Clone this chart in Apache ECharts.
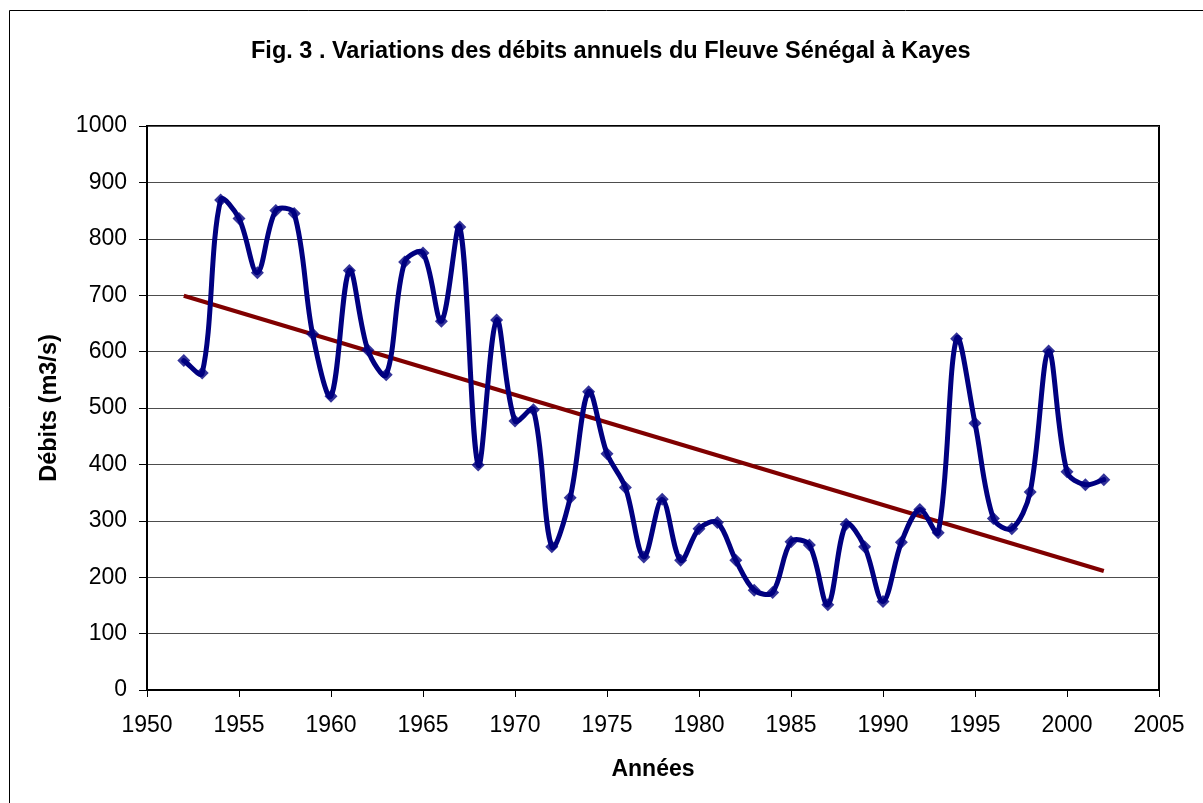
<!DOCTYPE html>
<html>
<head>
<meta charset="utf-8">
<script src="https://cdn.jsdelivr.net/npm/echarts@6/dist/echarts.min.js"></script>
<style>
html,body{margin:0;padding:0;background:#fff;}
#c{width:1203px;height:803px;}
</style>
</head>
<body>
<div id="c"></div>
<script>
const years = [1952,1953,1954,1955,1956,1957,1958,1959,1960,1961,1962,1963,1964,1965,1966,1967,1968,1969,1970,1971,1972,1973,1974,1975,1976,1977,1978,1979,1980,1981,1982,1983,1984,1985,1986,1987,1988,1989,1990,1991,1992,1993,1994,1995,1996,1997,1998,1999,2000,2001,2002];
const debits = [584,562,869,836,740,850,845,631,521,744,603,559,759,775,654,821,399,656,477,497,254,341,529,419,359,236,338,230,286,297,230,177,173,263,257,151,294,254,157,262,320,279,623,473,304,286,351,601,387,364,373];
const trendYears = [1952, 2002];
const trendValues = [699, 211];
const yTicks = [0,100,200,300,400,500,600,700,800,900,1000];

const mainData = years.map((y,i)=>[y, debits[i]]);
const trendData = trendYears.map((y,i)=>[y, trendValues[i]]);
const FONT = '"Liberation Sans", Arial, sans-serif';

// Smoothed curve (length-weighted Bezier), positioned via the chart's own scales
function renderSmooth(params, api){
  if (params.dataIndex !== 0) return null;
  const P = years.map((y,i)=>api.coord([y, debits[i]]));
  const n = P.length;
  const len = (a,b)=>Math.hypot(b[0]-a[0], b[1]-a[1]);
  const cpOut = [], cpIn = [];
  for (let i=0;i<n;i++){
    const prev = P[Math.max(i-1,0)], next = P[Math.min(i+1,n-1)];
    const T = [next[0]-prev[0], next[1]-prev[1]];
    const d1 = i>0 ? len(P[i-1],P[i]) : 0;
    const d2 = i<n-1 ? len(P[i],P[i+1]) : 0;
    const s = d1 + d2 || 1;
    const k = 1/3;
    cpIn[i] = [P[i][0] - T[0]*d1/s*k, P[i][1] - T[1]*d1/s*k];
    cpOut[i] = [P[i][0] + T[0]*d2/s*k, P[i][1] + T[1]*d2/s*k];
  }
  let d = 'M' + P[0][0] + ' ' + P[0][1];
  for (let i=0;i<n-1;i++){
    d += ' C' + cpOut[i][0] + ' ' + cpOut[i][1] + ' ' + cpIn[i+1][0] + ' ' + cpIn[i+1][1] + ' ' + P[i+1][0] + ' ' + P[i+1][1];
  }
  return {type:'path', shape:{pathData:d},
    style:{fill:'none', stroke:'#000080', lineWidth:5, lineJoin:'round', lineCap:'round'}};
}

const chart = echarts.init(document.getElementById('c'), null, {renderer:'canvas'});
chart.setOption({
  animation:false,
  backgroundColor:'#fff',
  graphic:[{type:'rect', shape:{x:9.5,y:10.5,width:1200,height:800}, style:{fill:'none', stroke:'#000', lineWidth:1}, z:-1}],
  title:{text:'Fig. 3 . Variations des débits annuels du Fleuve Sénégal à Kayes', left:246, top:35,
    textStyle:{fontFamily:FONT, fontSize:23.5, fontWeight:'bold', color:'#000'}},
  grid:{left:147, top:126, right:44, bottom:113, show:true, borderColor:'#000', borderWidth:2, backgroundColor:'transparent'},
  xAxis:{type:'value', min:1950, max:2005, interval:5,
    name:'Années', nameLocation:'middle', nameGap:68,
    nameTextStyle:{fontFamily:FONT, fontSize:23, fontWeight:'bold', color:'#000'},
    axisLine:{show:true, lineStyle:{color:'#000', width:2}},
    axisTick:{show:true, length:7, lineStyle:{color:'#000', width:1}},
    splitLine:{show:false},
    axisLabel:{fontFamily:FONT, fontSize:23, color:'#000', margin:24, formatter:(v)=>String(v)}},
  yAxis:{type:'value', min:0, max:1000, interval:100,
    name:'Débits (m3/s)', nameLocation:'middle', nameGap:85,
    nameTextStyle:{fontFamily:FONT, fontSize:23.5, fontWeight:'bold', color:'#000'},
    axisLine:{show:true, lineStyle:{color:'#000', width:2}},
    axisTick:{show:true, length:8, lineStyle:{color:'#000', width:1}},
    splitLine:{show:true, lineStyle:{color:'#4d4d4d', width:1}},
    axisLabel:{fontFamily:FONT, fontSize:23, color:'#000', margin:20,
      formatter:(v)=> yTicks.includes(v) ? String(v) : ''}},
  series:[
    {type:'line', data:trendData, symbol:'none', lineStyle:{color:'#800000', width:4}, z:2},
    {type:'custom', data:mainData, renderItem:renderSmooth, z:3, silent:true},
    {type:'scatter', data:mainData, symbol:'diamond', symbolSize:13, itemStyle:{color:'#000080'}, z:4}
  ]
});
</script>
</body>
</html>
